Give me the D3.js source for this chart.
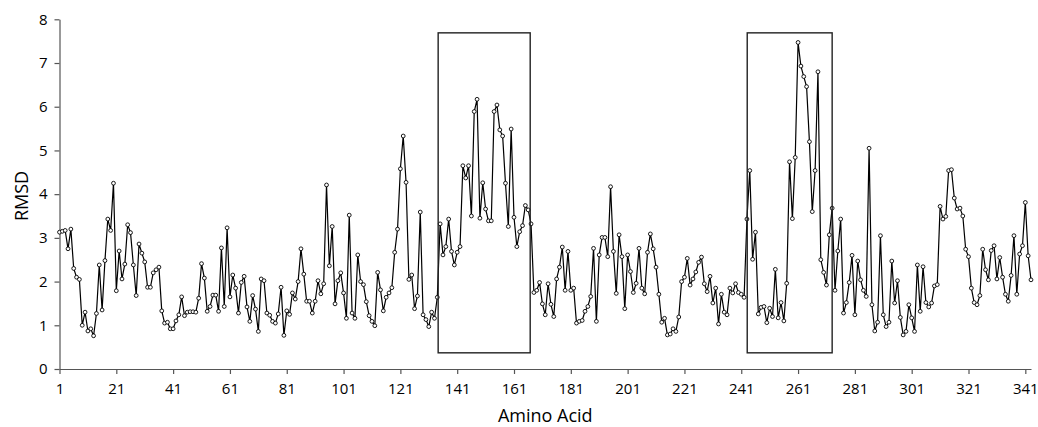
<!DOCTYPE html>
<html>
<head>
<meta charset="utf-8">
<script src="https://cdn.jsdelivr.net/npm/d3@7"></script>
<style>
  body { margin: 0; background: #fff; }
  text { font-family: "Open Sans", "DejaVu Sans", sans-serif; fill: #000; }
</style>
</head>
<body>
<div id="chart"></div>
<script>
// RMSD per residue, residues 1..343
const rmsd = [
  3.13, 3.15, 3.17, 2.75, 3.2, 2.3, 2.1, 2.05, 1.0, 1.3, 0.87, 0.92, 0.76, 1.27, 2.38, 1.35, 2.48, 3.43, 3.17, 4.25,
  1.79, 2.70, 2.06, 2.40, 3.30, 3.12, 2.38, 1.68, 2.86, 2.65, 2.45, 1.87, 1.87, 2.2, 2.27, 2.33, 1.33, 1.05, 1.07, 0.92,
  0.92, 1.1, 1.24, 1.65, 1.22, 1.3, 1.31, 1.31, 1.30, 1.62, 2.41, 2.08, 1.32, 1.43, 1.69, 1.69, 1.32, 2.77, 1.43, 3.23,
  1.65, 2.15, 1.85, 1.28, 1.98, 2.12, 1.42, 1.09, 1.68, 1.37, 0.86, 2.06, 2.02, 1.28, 1.23, 1.09, 1.05, 1.26, 1.87, 0.77,
  1.33, 1.25, 1.74, 1.6, 2.0, 2.75, 2.17, 1.55, 1.55, 1.28, 1.55, 2.02, 1.72, 1.95, 4.21, 2.36, 3.26, 1.49, 2.02, 2.2,
  1.74, 1.16, 3.52, 1.28, 1.16, 2.61, 2.0, 1.93, 1.54, 1.22, 1.09, 0.99, 2.21, 1.81, 1.33, 1.64, 1.74, 1.86, 2.67, 3.2,
  4.58, 5.33, 4.27, 2.05, 2.15, 1.38, 1.67, 3.59, 1.24, 1.13, 0.97, 1.30, 1.16, 1.64, 3.32, 2.61, 2.80, 3.43, 2.69, 2.38,
  2.67, 2.80, 4.65, 4.37, 4.65, 3.5, 5.89, 6.17, 3.45, 4.26, 3.66, 3.39, 3.39, 5.89, 6.04, 5.47, 5.33, 4.25, 3.26, 5.49,
  3.47, 2.80, 3.14, 3.28, 3.74, 3.64, 3.32, 1.75, 1.80, 1.98, 1.49, 1.24, 1.95, 1.48, 1.2, 2.06, 2.33, 2.79, 1.80, 2.69,
  1.80, 1.85, 1.05, 1.09, 1.11, 1.32, 1.43, 1.66, 2.76, 1.09, 2.61, 3.01, 3.01, 2.57, 4.17, 2.69, 1.73, 3.07, 2.57, 1.38,
  2.61, 2.23, 1.75, 1.96, 2.76, 1.85, 1.72, 2.67, 3.09, 2.75, 2.33, 1.71, 1.07, 1.16, 0.78, 0.80, 0.92, 0.86, 1.19, 2.0,
  2.1, 2.53, 1.92, 2.06, 2.22, 2.44, 2.56, 1.95, 1.77, 2.12, 1.51, 1.85, 1.03, 1.71, 1.30, 1.24, 1.85, 1.74, 1.95, 1.75,
  1.71, 1.64, 3.43, 4.54, 2.51, 3.13, 1.26, 1.41, 1.43, 1.06, 1.39, 1.20, 2.28, 1.17, 1.52, 1.10, 1.96, 4.74, 3.44, 4.84,
  7.47, 6.93, 6.69, 6.46, 5.2, 3.6, 4.54, 6.80, 2.50, 2.21, 1.92, 3.07, 3.68, 1.80, 2.70, 3.43, 1.28, 1.52, 1.98, 2.60,
  1.24, 2.47, 2.04, 1.80, 1.66, 5.05, 1.47, 0.87, 1.07, 3.05, 1.24, 0.97, 1.07, 2.47, 1.51, 2.02, 1.18, 0.78, 0.86, 1.47,
  1.17, 0.86, 2.38, 1.32, 2.34, 1.52, 1.42, 1.51, 1.90, 1.93, 3.72, 3.43, 3.49, 4.54, 4.56, 3.91, 3.66, 3.68, 3.50, 2.74,
  2.57, 1.85, 1.52, 1.47, 1.68, 2.74, 2.27, 2.04, 2.71, 2.82, 2.06, 2.55, 2.10, 1.71, 1.55, 2.14, 3.05, 1.71, 2.63, 2.82,
  3.81, 2.59, 2.04
];
const residues = d3.range(1, rmsd.length + 1);
const xTickValues = d3.range(1, 342, 20);
const yTickValues = [0, 1, 2, 3, 4, 5, 6, 7, 8];
// highlighted regions (residue from/to, RMSD from/to)
const regionStart = [134.3, 243.1];
const regionEnd = [166.7, 273.0];
const regionLow = 0.37, regionHigh = 7.69;

const width = 1038, height = 427;
const margin = {top: 19, right: 7, bottom: 58, left: 59.5};

const svg = d3.select("#chart")
  .append("svg")
    .attr("width", width)
    .attr("height", height)
    .style("background-color", "#fff");

const x = d3.scaleLinear()
  .domain([1, rmsd.length])
  .range([margin.left, width - margin.right]);

const y = d3.scaleLinear()
  .domain([0, 8])
  .range([height - margin.bottom, margin.top + 0.3]);

// axes
const xAxis = svg.append("g")
  .attr("transform", "translate(0," + y(0) + ")")
  .call(d3.axisBottom(x).tickValues(xTickValues).tickFormat(d3.format("d")).tickSize(5).tickSizeOuter(0));
xAxis.selectAll("text")
  .attr("dy", "1.1em")
  .style("font-size", "15px");

const yAxis = svg.append("g")
  .attr("transform", "translate(" + x(1) + ",0)")
  .call(d3.axisLeft(y).tickValues(yTickValues).tickSize(5).tickSizeOuter(0));
yAxis.selectAll("text")
  .attr("x", -12)
  .style("font-size", "15px");

svg.selectAll(".domain, .tick line")
  .attr("stroke", "#555")
  .attr("stroke-width", 1.2);

// line + markers
const line = d3.line()
  .x((d, i) => x(residues[i]))
  .y(d => y(d));

svg.append("path")
  .datum(rmsd)
  .attr("fill", "none")
  .attr("stroke", "#000")
  .attr("stroke-width", 1.2)
  .attr("d", line);

svg.selectAll("circle.pt")
  .data(rmsd)
  .join("circle")
    .attr("class", "pt")
    .attr("cx", (d, i) => x(residues[i]))
    .attr("cy", d => y(d))
    .attr("r", 1.9)
    .attr("fill", "#fff")
    .attr("stroke", "#000")
    .attr("stroke-width", 0.9);

// boxes
svg.selectAll("rect.region")
  .data(regionStart)
  .join("rect")
    .attr("class", "region")
    .attr("x", d => x(d))
    .attr("y", y(regionHigh))
    .attr("width", (d, i) => x(regionEnd[i]) - x(d))
    .attr("height", y(regionLow) - y(regionHigh))
    .attr("fill", "none")
    .attr("stroke", "#222")
    .attr("stroke-width", 1.4);

// axis titles
svg.append("text")
  .attr("x", (x(1) + x(rmsd.length)) / 2)
  .attr("y", 422)
  .attr("text-anchor", "middle")
  .style("font-size", "18px")
  .text("Amino Acid");

svg.append("text")
  .attr("transform", "translate(28," + 196 + ")rotate(-90)")
  .attr("text-anchor", "middle")
  .style("font-size", "18px")
  .text("RMSD");
</script>
</body>
</html>
